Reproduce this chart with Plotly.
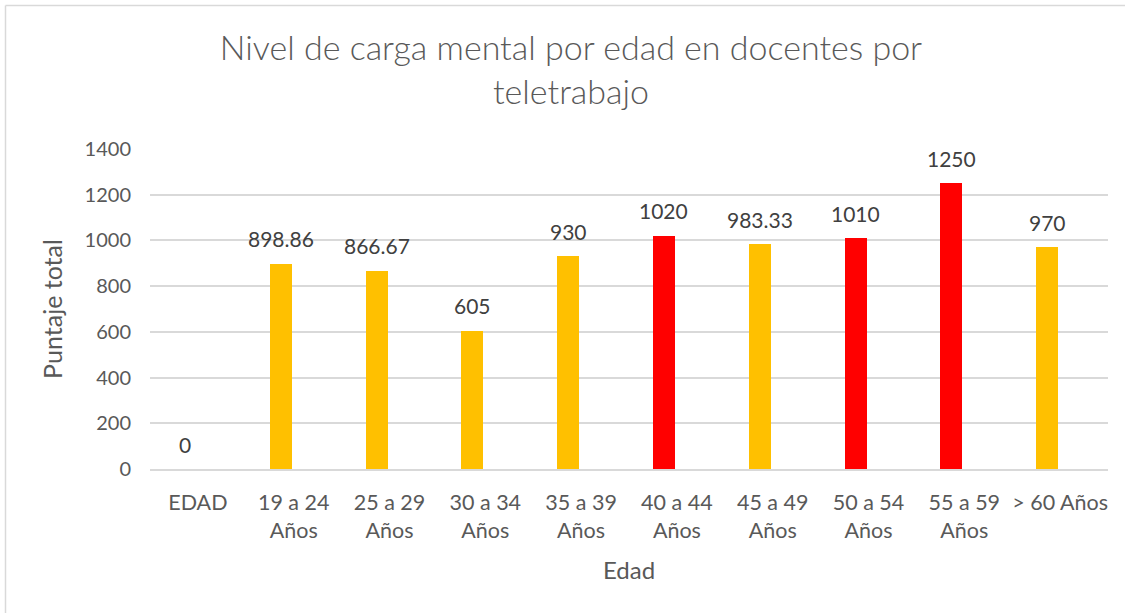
import plotly.graph_objects as go

categories = ["EDAD", "19 a 24<br>Años", "25 a 29<br>Años", "30 a 34<br>Años", "35 a 39<br>Años",
              "40 a 44<br>Años", "45 a 49<br>Años", "50 a 54<br>Años", "55 a 59<br>Años", "> 60 Años"]
values = [0, 898.86, 866.67, 605, 930, 1020, 983.33, 1010, 1250, 970]
value_labels = ["0", "898.86", "866.67", "605", "930", "1020", "983.33", "1010", "1250", "970"]
bar_colors = ["#FFC000", "#FFC000", "#FFC000", "#FFC000", "#FFC000",
              "#FF0000", "#FFC000", "#FF0000", "#FF0000", "#FFC000"]
y_ticks = [0, 200, 400, 600, 800, 1000, 1200, 1400]

FONT = "Lato"
TXT = "#595959"
LBL = "#404040"

W, H = 1125, 613
L, R, T, B = 150, 17, 149, 144
pw, ph = W - L - R, H - T - B

BAR_W, BAR_OFF = 0.23, -0.25
cat_px = pw / len(categories)

fig = go.Figure()
fig.add_trace(go.Bar(
    x=categories, y=values,
    marker=dict(color=bar_colors, line=dict(width=0)),
    width=BAR_W, offset=BAR_OFF,
    hoverinfo="x+y",
))

annotations = []
for c, v, t in zip(categories, values, value_labels):
    annotations.append(dict(
        x=c, y=v, xref="x", yref="y", text=t, showarrow=False,
        xanchor="center", yanchor="middle",
        xshift=(BAR_OFF + BAR_W / 2) * cat_px, yshift=25,
        font=dict(family=FONT, size=21, color=LBL),
    ))

def px_x(p):
    return (p - L) / pw

def px_y(p):
    return (H - B - p) / ph

shapes = [
    dict(type="line", xref="paper", yref="paper", x0=px_x(5.5), x1=px_x(5.5), y0=px_y(5.5), y1=px_y(H + 5),
         line=dict(color="#d9d9d9", width=1.5)),
    dict(type="line", xref="paper", yref="paper", x0=px_x(5.5), x1=px_x(W + 5), y0=px_y(5.5), y1=px_y(5.5),
         line=dict(color="#d9d9d9", width=1.5)),
]

fig.update_layout(
    width=W, height=H,
    margin=dict(l=L, r=R, t=T, b=B),
    paper_bgcolor="white", plot_bgcolor="white",
    showlegend=False,
    bargap=0,
    title=dict(text="Nivel de carga mental por edad en docentes por<br>teletrabajo",
               xref="container", x=571 / W, xanchor="center",
               yref="container", y=1 - 60 / H, yanchor="middle",
               font=dict(family=FONT, size=34, color=TXT, weight=300)),
    font=dict(family=FONT, color=TXT),
    xaxis=dict(
        type="category", showgrid=False, showline=True, linecolor="#d9d9d9", linewidth=1.5,
        ticks="", ticklabelstandoff=13, tickfont=dict(family=FONT, size=21.5, color=TXT),
        title=dict(text="Edad", font=dict(family=FONT, size=24, color=TXT), standoff=21),
    ),
    yaxis=dict(
        range=[0, 1400], tickvals=y_ticks, showgrid=True, gridcolor="#d9d9d9", gridwidth=1.5,
        zeroline=False, showline=False, ticks="", ticklabelstandoff=18,
        tickfont=dict(family=FONT, size=20, color=TXT),
        title=dict(text="Puntaje total", font=dict(family=FONT, size=25, color=TXT), standoff=14),
    ),
    annotations=annotations,
    shapes=shapes,
)

fig.write_html("out.html", config={"displayModeBar": False},
               post_script="document.body.style.margin='0';document.body.style.padding='0';")
